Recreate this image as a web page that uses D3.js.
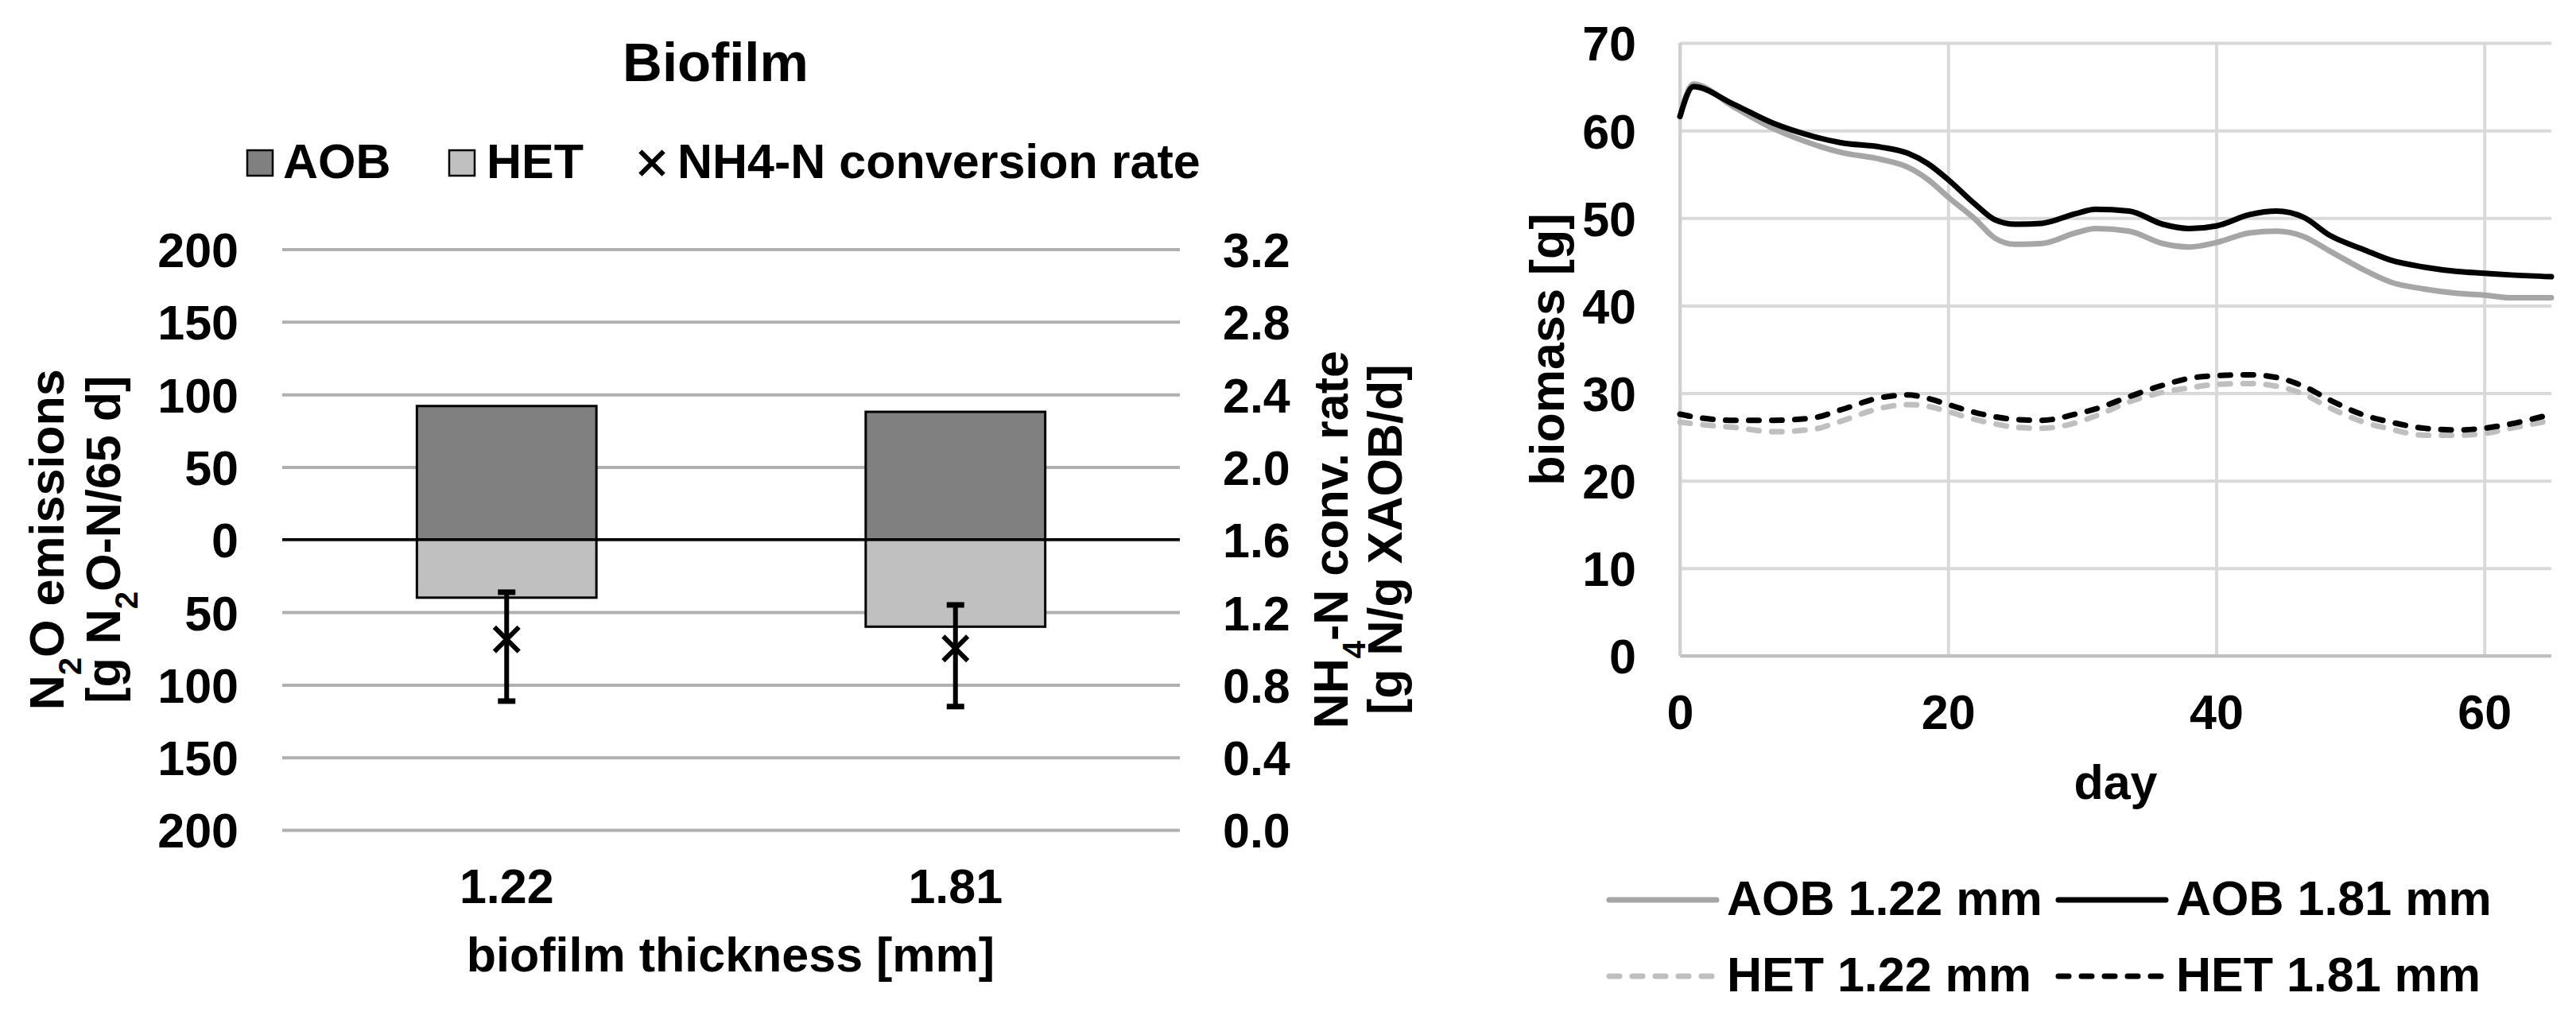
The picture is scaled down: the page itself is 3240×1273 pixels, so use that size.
<!DOCTYPE html>
<html>
<head>
<meta charset="utf-8">
<script src="https://cdn.jsdelivr.net/npm/d3@7"></script>
<style>
  body { margin: 0; background: #fff; }
  svg text { font-family: "Liberation Sans", Arial, sans-serif; font-weight: bold; fill: #000; }
</style>
</head>
<body>
<div id="chart"></div>
<script>
// ---- left chart data ----
var categories = ["1.22", "1.81"];
var aobN2O = [92, 88];
var hetN2O = [40, 60];
var convRate = [1.05, 1.00];
var convRateLow = [0.71, 0.68];
var convRateHigh = [1.31, 1.24];
var leftTicks = [-200, -150, -100, -50, 0, 50, 100, 150, 200];
var rightTicks = [0, 0.4, 0.8, 1.2, 1.6, 2.0, 2.4, 2.8, 3.2];

// ---- right chart data ----
var days = [0, 1, 4, 7, 10, 12, 15, 17, 18.5, 20, 22, 23.5, 25, 27, 29.5, 31, 33.5, 36, 38, 40, 42.5, 44.5, 46.5, 48.5, 51, 53, 55.5, 58, 60, 62, 65];
var aob122 = [61.6, 65.3, 62.7, 60.2, 58.4, 57.5, 56.7, 55.8, 54.4, 52.4, 49.9, 47.7, 47.0, 47.1, 48.3, 48.8, 48.5, 47.1, 46.7, 47.2, 48.3, 48.5, 47.9, 46.2, 44.1, 42.7, 41.9, 41.4, 41.2, 40.9, 40.9];
var aob181 = [61.6, 65.0, 63.0, 60.8, 59.3, 58.6, 58.1, 57.4, 56.2, 54.4, 51.6, 49.8, 49.3, 49.4, 50.5, 51.0, 50.8, 49.3, 48.8, 49.1, 50.4, 50.8, 50.1, 48.0, 46.4, 45.2, 44.4, 43.9, 43.7, 43.5, 43.3];
var het122 = [26.7, 26.5, 26.1, 25.6, 25.9, 26.8, 28.3, 28.7, 28.5, 27.9, 27.0, 26.5, 26.1, 26.0, 26.6, 27.4, 29.0, 30.1, 30.6, 31.0, 31.1, 30.8, 29.9, 28.3, 26.7, 25.9, 25.2, 25.2, 25.4, 26.0, 26.9];
var het181 = [27.6, 27.3, 26.9, 26.9, 27.2, 28.1, 29.5, 29.8, 29.4, 28.7, 27.8, 27.3, 27.0, 26.9, 27.6, 28.2, 29.6, 30.9, 31.7, 32.0, 32.1, 31.8, 30.8, 29.2, 27.5, 26.7, 26.0, 25.8, 26.0, 26.5, 27.6];
var dayTicks = [0, 20, 40, 60];
var biomassTicks = [0, 10, 20, 30, 40, 50, 60, 70];

var fontSize = 61;

var svg = d3.select("#chart").append("svg")
  .attr("width", 3240)
  .attr("height", 1273);

// ================= left chart =================
var L = {left: 355, right: 1484, top: 313.5, bottom: 1044};

var x = d3.scaleBand().domain(categories)
  .range([L.left, L.right])
  .paddingInner(0.6)
  .paddingOuter(0.3);
var y = d3.scaleLinear().domain([-200, 200]).range([L.bottom, L.top]);
var y2 = d3.scaleLinear().domain([0, 3.2]).range([L.bottom, L.top]);

// title
svg.append("text")
  .attr("x", 900).attr("y", 102)
  .style("text-anchor", "middle")
  .style("font-size", "69px")
  .text("Biofilm");

// legend
var legend = svg.append("g").style("font-size", fontSize + "px");
legend.append("rect").attr("x", 311).attr("y", 189).attr("width", 32).attr("height", 32)
  .attr("fill", "#808080").attr("stroke", "#000").attr("stroke-width", 2.5);
legend.append("text").attr("x", 356).attr("y", 224).text("AOB");
legend.append("rect").attr("x", 565).attr("y", 189).attr("width", 32).attr("height", 32)
  .attr("fill", "#c0c0c0").attr("stroke", "#000").attr("stroke-width", 2.5);
legend.append("text").attr("x", 612).attr("y", 224).text("HET");
legend.append("path")
  .attr("d", d3.symbol(d3.symbolX).size(560)())
  .attr("transform", "translate(820,205)")
  .attr("stroke", "#000").attr("stroke-width", 6);
legend.append("text").attr("x", 852).attr("y", 224).text("NH4-N conversion rate");

// gridlines
svg.append("g")
  .attr("transform", "translate(" + L.left + ",0)")
  .call(d3.axisLeft(y).tickValues(leftTicks).tickSize(-(L.right - L.left)).tickFormat(""))
  .call(function(g) { g.select(".domain").remove(); })
  .selectAll("line").attr("stroke", "#b0b0b0").attr("stroke-width", 4);

// left tick labels
svg.append("g")
  .attr("transform", "translate(300,0)")
  .call(d3.axisLeft(y).tickValues(leftTicks).tickSize(0).tickPadding(0)
    .tickFormat(function(d) { return Math.abs(d); }))
  .call(function(g) { g.select(".domain").remove(); })
  .selectAll("text").style("font-size", fontSize + "px").attr("dy", "0.36em");

// right tick labels
svg.append("g")
  .attr("transform", "translate(1538,0)")
  .call(d3.axisRight(y2).tickValues(rightTicks).tickSize(0).tickPadding(0)
    .tickFormat(d3.format(".1f")))
  .call(function(g) { g.select(".domain").remove(); })
  .selectAll("text").style("font-size", fontSize + "px").attr("dy", "0.36em");

// bars
svg.selectAll(".aob").data(categories).enter().append("rect")
  .attr("class", "aob")
  .attr("x", function(d) { return x(d); })
  .attr("width", x.bandwidth())
  .attr("y", function(d, i) { return y(aobN2O[i]); })
  .attr("height", function(d, i) { return y(0) - y(aobN2O[i]); })
  .attr("fill", "#808080").attr("stroke", "#000").attr("stroke-width", 3);

svg.selectAll(".het").data(categories).enter().append("rect")
  .attr("class", "het")
  .attr("x", function(d) { return x(d); })
  .attr("width", x.bandwidth())
  .attr("y", y(0))
  .attr("height", function(d, i) { return y(-hetN2O[i]) - y(0); })
  .attr("fill", "#c0c0c0").attr("stroke", "#000").attr("stroke-width", 3);

// zero line
svg.append("line")
  .attr("x1", L.left).attr("x2", L.right)
  .attr("y1", y(0)).attr("y2", y(0))
  .attr("stroke", "#000").attr("stroke-width", 3.5);

// error bars and markers
var cx = function(d) { return x(d) + x.bandwidth() / 2; };
var err = svg.selectAll(".err").data(categories).enter().append("g").attr("class", "err");
err.append("line")
  .attr("x1", cx).attr("x2", cx)
  .attr("y1", function(d, i) { return y2(convRateHigh[i]); })
  .attr("y2", function(d, i) { return y2(convRateLow[i]); })
  .attr("stroke", "#000").attr("stroke-width", 6);
err.append("line")
  .attr("x1", function(d) { return cx(d) - 11; }).attr("x2", function(d) { return cx(d) + 11; })
  .attr("y1", function(d, i) { return y2(convRateHigh[i]); })
  .attr("y2", function(d, i) { return y2(convRateHigh[i]); })
  .attr("stroke", "#000").attr("stroke-width", 7);
err.append("line")
  .attr("x1", function(d) { return cx(d) - 11; }).attr("x2", function(d) { return cx(d) + 11; })
  .attr("y1", function(d, i) { return y2(convRateLow[i]); })
  .attr("y2", function(d, i) { return y2(convRateLow[i]); })
  .attr("stroke", "#000").attr("stroke-width", 7);
err.append("path")
  .attr("d", d3.symbol(d3.symbolX).size(620)())
  .attr("transform", function(d, i) { return "translate(" + cx(d) + "," + y2(convRate[i]) + ")"; })
  .attr("stroke", "#000").attr("stroke-width", 6);

// category labels
svg.append("g")
  .attr("transform", "translate(0,1136)")
  .call(d3.axisBottom(x).tickSize(0).tickPadding(0))
  .call(function(g) { g.select(".domain").remove(); })
  .selectAll("text").style("font-size", fontSize + "px").attr("dy", 0).attr("y", 0);

svg.append("text")
  .attr("x", 919).attr("y", 1222)
  .style("text-anchor", "middle").style("font-size", fontSize + "px")
  .text("biofilm thickness [mm]");

// left axis title
var lt1 = svg.append("text")
  .attr("transform", "translate(80," + y(0) + ") rotate(-90)")
  .style("text-anchor", "middle").style("font-size", fontSize + "px");
lt1.append("tspan").text("N");
lt1.append("tspan").attr("baseline-shift", "sub").style("font-size", "40px").text("2");
lt1.append("tspan").text("O emissions");
var lt2 = svg.append("text")
  .attr("transform", "translate(151," + y(0) + ") rotate(-90)")
  .style("text-anchor", "middle").style("font-size", fontSize + "px");
lt2.append("tspan").text("[g N");
lt2.append("tspan").attr("baseline-shift", "sub").style("font-size", "40px").text("2");
lt2.append("tspan").text("O-N/65 d]");

// right axis title
var rt1 = svg.append("text")
  .attr("transform", "translate(1695," + y(0) + ") rotate(-90)")
  .style("text-anchor", "middle").style("font-size", fontSize + "px");
rt1.append("tspan").text("NH");
rt1.append("tspan").attr("baseline-shift", "sub").style("font-size", "40px").text("4");
rt1.append("tspan").text("-N conv. rate");
svg.append("text")
  .attr("transform", "translate(1763," + y(0) + ") rotate(-90)")
  .style("text-anchor", "middle").style("font-size", fontSize + "px")
  .text("[g N/g XAOB/d]");

// ================= right chart =================
var R = {left: 2113, right: 3209, top: 54, bottom: 825};
var xd = d3.scaleLinear().domain([0, 65]).range([R.left, R.right]);
var yb = d3.scaleLinear().domain([0, 70]).range([R.bottom, R.top]);

svg.append("g")
  .attr("transform", "translate(" + R.left + ",0)")
  .call(d3.axisLeft(yb).tickValues(biomassTicks).tickSize(-(R.right - R.left)).tickFormat(""))
  .call(function(g) { g.select(".domain").remove(); })
  .selectAll("line").attr("stroke", "#d9d9d9").attr("stroke-width", 4);

svg.append("g")
  .attr("transform", "translate(0," + R.bottom + ")")
  .call(d3.axisBottom(xd).tickValues(dayTicks).tickSize(-(R.bottom - R.top)).tickFormat(""))
  .call(function(g) { g.select(".domain").remove(); })
  .selectAll("line").attr("stroke", "#d9d9d9").attr("stroke-width", 4);

// axis lines
svg.append("line")
  .attr("x1", R.left).attr("x2", R.right).attr("y1", yb(0)).attr("y2", yb(0))
  .attr("stroke", "#bfbfbf").attr("stroke-width", 4);
svg.append("line")
  .attr("x1", R.left).attr("x2", R.left).attr("y1", yb(0)).attr("y2", yb(70))
  .attr("stroke", "#cfcfcf").attr("stroke-width", 4);

svg.append("g")
  .attr("transform", "translate(2058,0)")
  .call(d3.axisLeft(yb).tickValues(biomassTicks).tickSize(0).tickPadding(0))
  .call(function(g) { g.select(".domain").remove(); })
  .selectAll("text").style("font-size", fontSize + "px").attr("dy", "0.36em");

svg.append("g")
  .attr("transform", "translate(0,917)")
  .call(d3.axisBottom(xd).tickValues(dayTicks).tickSize(0).tickPadding(0))
  .call(function(g) { g.select(".domain").remove(); })
  .selectAll("text").style("font-size", fontSize + "px").attr("dy", 0).attr("y", 0);

svg.append("text")
  .attr("x", (R.left + R.right) / 2).attr("y", 1005)
  .style("text-anchor", "middle").style("font-size", fontSize + "px")
  .text("day");

svg.append("text")
  .attr("transform", "translate(1967," + (R.top + R.bottom) / 2 + ") rotate(-90)")
  .style("text-anchor", "middle").style("font-size", fontSize + "px")
  .text("biomass [g]");

var series = [
  {name: "HET 1.22 mm", values: het122, color: "#bfbfbf", dash: "13,16"},
  {name: "HET 1.81 mm", values: het181, color: "#000", dash: "13,16"},
  {name: "AOB 1.22 mm", values: aob122, color: "#a6a6a6", dash: null},
  {name: "AOB 1.81 mm", values: aob181, color: "#000", dash: null}
];

var line = d3.line()
  .x(function(d) { return xd(d[0]); })
  .y(function(d) { return yb(d[1]); })
  .curve(d3.curveMonotoneX);

svg.selectAll(".series").data(series).enter().append("path")
  .attr("class", "series")
  .attr("d", function(s) { return line(days.map(function(d, i) { return [d, s.values[i]]; })); })
  .attr("fill", "none")
  .attr("stroke", function(s) { return s.color; })
  .attr("stroke-width", 7)
  .attr("stroke-linecap", "round")
  .attr("stroke-dasharray", function(s) { return s.dash; });

// legend right
var legendItems = [
  {name: "AOB 1.22 mm", color: "#a6a6a6", dash: null, x: 2024, y: 1132},
  {name: "AOB 1.81 mm", color: "#000", dash: null, x: 2589, y: 1132},
  {name: "HET 1.22 mm", color: "#bfbfbf", dash: "13,16", x: 2024, y: 1228},
  {name: "HET 1.81 mm", color: "#000", dash: "13,16", x: 2589, y: 1228}
];
var lg = svg.selectAll(".lg").data(legendItems).enter().append("g").attr("class", "lg");
lg.append("line")
  .attr("x1", function(d) { return d.x; }).attr("x2", function(d) { return d.x + 135; })
  .attr("y1", function(d) { return d.y; }).attr("y2", function(d) { return d.y; })
  .attr("stroke", function(d) { return d.color; })
  .attr("stroke-width", 7).attr("stroke-linecap", "round")
  .attr("stroke-dasharray", function(d) { return d.dash; });
lg.append("text")
  .attr("x", function(d) { return d.x + 148; })
  .attr("y", function(d) { return d.y + 19; })
  .style("font-size", fontSize + "px")
  .text(function(d) { return d.name; });
</script>
</body>
</html>
